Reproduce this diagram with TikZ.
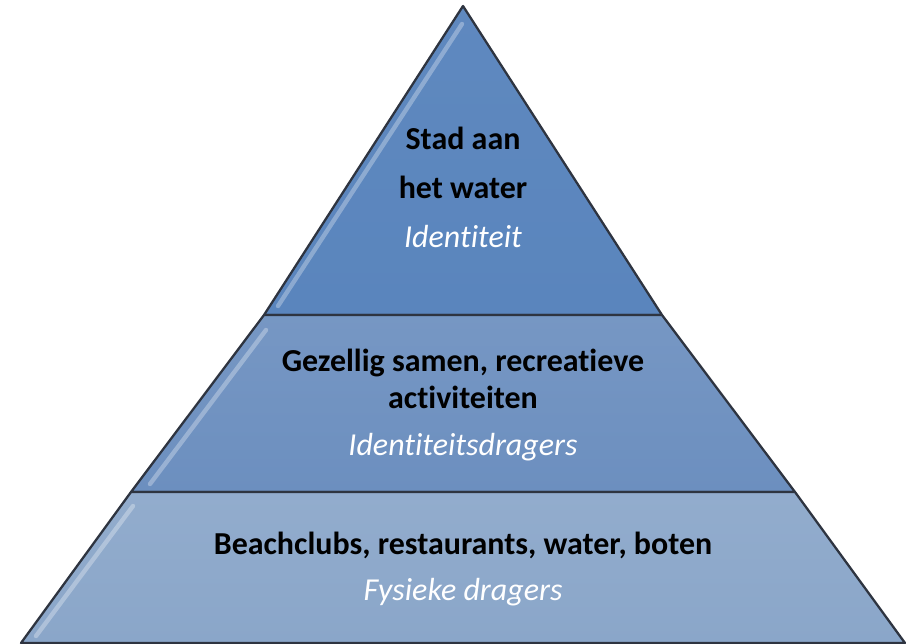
\documentclass[tikz,border=0pt]{standalone}
\usepackage{fontspec}
\setmainfont{Carlito}[Ligatures={NoCommon,NoRequired,NoContextual}]
\definecolor{topblue}{HTML}{5A85BD}
\definecolor{midblue}{HTML}{6C8FBF}
\definecolor{lowblue}{HTML}{8AA6C9}
\definecolor{rim}{HTML}{2E3440}

\begin{document}
\begin{tikzpicture}[x=0.02cm,y=-0.02cm,
        tier/.style={draw=rim,line width=1.3pt,line join=round},
        shine/.style={white,opacity=0.3,line width=2.5pt,line cap=round},
        label/.style={font=\fontsize{18.2}{21}\selectfont\bfseries,text=black},
        role/.style={font=\fontsize{18.2}{21}\selectfont\itshape,text=white}]
        \useasboundingbox (0,0) rectangle (906,643);

        \coordinate (apex) at (463,6);
        \coordinate (A) at (264,315);
        \coordinate (B) at (662,315);
        \coordinate (C) at (131,492);
        \coordinate (D) at (795,492);
        \coordinate (E) at (21,643);
        \coordinate (F) at (905,643);

        % tiers, top to bottom
        \filldraw[tier,top color=topblue!97!white,bottom color=topblue] (apex) -- (B) -- (A) -- cycle;
        \filldraw[tier,top color=midblue!93!white,bottom color=midblue] (A) -- (B) -- (D) -- (C) -- cycle;
        \filldraw[tier,top color=lowblue!93!white,bottom color=lowblue] (C) -- (D) -- (F) -- (E) -- cycle;

        % light rim on the left sides
        \draw[shine] (462,24) -- (278,306);
        \draw[shine] (266,330) -- (150,484);
        \draw[shine] (133,506) -- (36,636);

        % texts
        \node[label] (t1) at (463,138) {Stad aan};
        \node[label] (t2) at (463,187) {het water};
        \node[role]  (r1) at (463,237) {Identiteit};
        \node[label] (m1) at (463,363) {Gezellig samen, recreatieve};
        \node[label] (m2) at (463,397) {activiteiten};
        \node[role]  (r2) at (463,447) {Identiteitsdragers};
        \node[label] (b1) at (463,545) {Beachclubs, restaurants, water, boten};
        \node[role]  (r3) at (463,592) {Fysieke dragers};
\end{tikzpicture}
\end{document}
